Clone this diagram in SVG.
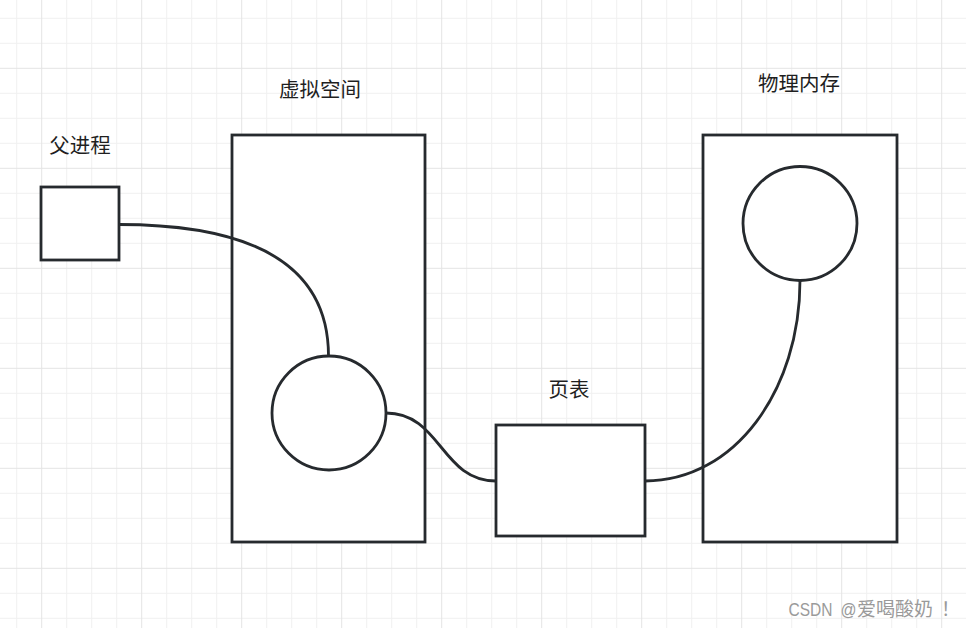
<svg xmlns="http://www.w3.org/2000/svg" width="966" height="628" viewBox="0 0 966 628">
  <style>
    .shape { fill: #ffffff; stroke: #262a2e; stroke-width: 2.8; }
    .edge { fill: none; stroke: #262a2e; stroke-width: 2.8; }
    .label { font-family: "Noto Sans CJK SC", "Microsoft YaHei", sans-serif; font-size: 20.5px; fill: #1f1f1f; text-anchor: middle; }
    .wm { font-family: "Liberation Sans", "Noto Sans CJK SC", sans-serif; font-size: 18px; fill: #9a9a9a; }
    .wmcjk { font-family: "Noto Sans CJK SC", sans-serif; font-size: 19px; fill: #9a9a9a; }
  </style>
  <defs>
    <pattern id="grid" patternUnits="userSpaceOnUse" x="41.2" y="67.8" width="100" height="100">
      <rect x="25" y="0" width="1" height="100" fill="#f0f0f0"/>
      <rect x="50" y="0" width="1" height="100" fill="#f0f0f0"/>
      <rect x="75" y="0" width="1" height="100" fill="#f0f0f0"/>
      <rect x="0" y="25" width="100" height="1" fill="#f0f0f0"/>
      <rect x="0" y="50" width="100" height="1" fill="#f0f0f0"/>
      <rect x="0" y="75" width="100" height="1" fill="#f0f0f0"/>
      <rect x="0" y="0" width="1" height="100" fill="#e4e4e4"/>
      <rect x="0" y="0" width="100" height="1" fill="#e4e4e4"/>
    </pattern>
  </defs>
  <rect x="0" y="0" width="966" height="628" fill="#ffffff"/>
  <rect x="0" y="0" width="966" height="628" fill="url(#grid)"/>

  <g id="virtual-space">
    <rect class="shape" x="232" y="135" width="193" height="407"/>
    <text class="label" x="320" y="97">虚拟空间</text>
  </g>
  <g id="physical-memory">
    <rect class="shape" x="703" y="135" width="194" height="407"/>
    <text class="label" x="799" y="91">物理内存</text>
  </g>
  <g id="parent-process">
    <rect class="shape" x="41" y="187" width="78" height="73"/>
    <text class="label" x="80" y="153">父进程</text>
  </g>
  <g id="page-table">
    <rect class="shape" x="496" y="425" width="149" height="111"/>
    <text class="label" x="569" y="397">页表</text>
  </g>
  <g id="virtual-page">
    <circle class="shape" cx="329" cy="413" r="57"/>
  </g>
  <g id="physical-page">
    <circle class="shape" cx="800" cy="223.5" r="57"/>
  </g>

  <g id="connectors">
    <path class="edge" d="M119 224.5 Q328.5 224.5 328.5 356"/>
    <path class="edge" d="M386 413 C441 413 441 481 496 481"/>
    <path class="edge" d="M645 481 C735 481 800 390 800 280.5"/>
  </g>

  <g id="watermark">
    <text class="wm" x="788.5" y="616" textLength="44" lengthAdjust="spacingAndGlyphs">CSDN</text>
    <text class="wm" x="840.5" y="616" textLength="16" lengthAdjust="spacingAndGlyphs">@</text>
    <text class="wmcjk" x="857" y="616">爱喝酸奶</text>
    <text class="wmcjk" x="941" y="616">！</text>
  </g>
</svg>
